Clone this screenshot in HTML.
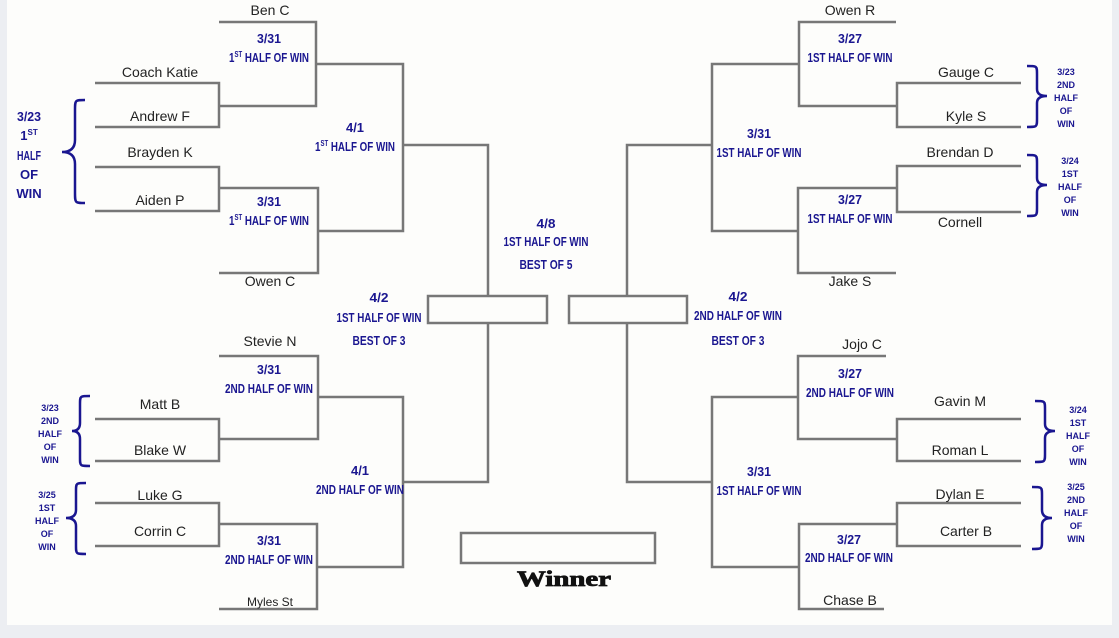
<!DOCTYPE html>
<html><head><meta charset="utf-8"><style>
html,body{margin:0;padding:0;background:#eceef2;width:1119px;height:638px;overflow:hidden}
svg{display:block}
.n{font-family:"Liberation Sans",sans-serif;font-size:14px;fill:#222;text-anchor:middle}
.b{font-family:"Liberation Sans Narrow","Liberation Sans",sans-serif;font-weight:bold;font-size:13px;fill:#1a1690;text-anchor:middle}
.s{font-family:"Liberation Sans Narrow","Liberation Sans",sans-serif;font-weight:bold;font-size:9px;fill:#1a1690;text-anchor:middle}
.l{stroke:#777;stroke-width:2.5;fill:none}
.br{stroke:#1a1690;stroke-width:2.5;fill:none}
</style></head><body>
<svg width="1119" height="638" viewBox="0 0 1119 638">
<rect x="7" y="0" width="1105" height="625" fill="#fdfdfb"/>
<g class="l">
<path d="M219 22H316V106H219"/>
<path d="M95 83H219V127H95"/>
<path d="M316 64H403V231H318"/>
<path d="M95 167H219V211H95"/>
<path d="M219 188H318V273H219"/>
<path d="M403 145H488V296"/>
<rect x="428" y="296" width="119" height="27"/>
<path d="M219 356H318V439H219"/>
<path d="M95 419H219V461H95"/>
<path d="M318 397H403V567H317"/>
<path d="M95 503H219V546H95"/>
<path d="M219 524H317V609H219"/>
<path d="M403 482H488V323"/>
<path d="M896 22H799V106H897"/>
<path d="M1021 83H897V127H1021"/>
<path d="M799 64H712V231H798"/>
<path d="M1021 166H897V212H1021"/>
<path d="M897 188H798V273H896"/>
<path d="M712 145H627V296"/>
<rect x="569" y="296" width="118" height="27"/>
<path d="M886 356H798V439H897"/>
<path d="M1021 419H897V461H1021"/>
<path d="M798 397H712V567H799"/>
<path d="M1021 503H897V546H1021"/>
<path d="M897 524H799V609H884"/>
<path d="M712 482H627V323"/>
<rect x="461" y="533" width="194" height="30"/>
</g>
<g class="br">
<path d="M85 100C75 100 75 100 75 110V140Q75 152 62 152Q75 152 75 164V193C75 203 75 203 85 203"/>
<path d="M90 396C80 396 80 396 80 404V423Q80 431 72 431Q80 431 80 439V458C80 466 80 466 90 466"/>
<path d="M86 483C76 483 76 483 76 491V510Q76 518 66 518Q76 518 76 526V546C76 554 76 554 86 554"/>
<path d="M1027 66C1037 66 1037 66 1037 74V89Q1037 96 1047 96Q1037 96 1037 103V119C1037 127 1037 127 1027 127"/>
<path d="M1027 155C1037 155 1037 155 1037 163V178Q1037 185 1047 185Q1037 185 1037 192V208C1037 216 1037 216 1027 216"/>
<path d="M1035 401C1045 401 1045 401 1045 409V424Q1045 431 1055 431Q1045 431 1045 438V454C1045 462 1045 462 1035 462"/>
<path d="M1032 487C1042 487 1042 487 1042 495V510Q1042 518 1052 518Q1042 518 1042 525V541C1042 549 1042 549 1032 549"/>
</g>
<g class="n">
<text x="270" y="15">Ben C</text>
<text x="160" y="77">Coach Katie</text>
<text x="160" y="121">Andrew F</text>
<text x="160" y="157">Brayden K</text>
<text x="160" y="205">Aiden P</text>
<text x="270" y="286">Owen C</text>
<text x="270" y="346">Stevie N</text>
<text x="160" y="409">Matt B</text>
<text x="160" y="455">Blake W</text>
<text x="160" y="500">Luke G</text>
<text x="160" y="536">Corrin C</text>
<text x="270" y="606" style="font-size:12px">Myles St</text>
<text x="850" y="15">Owen R</text>
<text x="966" y="77">Gauge C</text>
<text x="966" y="121">Kyle S</text>
<text x="960" y="157">Brendan D</text>
<text x="960" y="227">Cornell</text>
<text x="850" y="286">Jake S</text>
<text x="862" y="349">Jojo C</text>
<text x="960" y="406">Gavin M</text>
<text x="960" y="455">Roman L</text>
<text x="960" y="499">Dylan E</text>
<text x="966" y="536">Carter B</text>
<text x="850" y="605">Chase B</text>
</g>
<g class="b">
<text x="269" y="43" textLength="24" lengthAdjust="spacingAndGlyphs">3/31</text><text x="269" y="62" textLength="80" lengthAdjust="spacingAndGlyphs">1<tspan font-size="8" dy="-5">ST</tspan><tspan dy="5"> HALF OF WIN</tspan></text>
<text x="269" y="206" textLength="24" lengthAdjust="spacingAndGlyphs">3/31</text><text x="269" y="225" textLength="80" lengthAdjust="spacingAndGlyphs">1<tspan font-size="8" dy="-5">ST</tspan><tspan dy="5"> HALF OF WIN</tspan></text>
<text x="355" y="132" textLength="18" lengthAdjust="spacingAndGlyphs">4/1</text><text x="355" y="151" textLength="80" lengthAdjust="spacingAndGlyphs">1<tspan font-size="8" dy="-5">ST</tspan><tspan dy="5"> HALF OF WIN</tspan></text>
<text x="29" y="121" textLength="24" lengthAdjust="spacingAndGlyphs">3/23</text><text x="29" y="140">1<tspan font-size="8" dy="-5">ST</tspan></text><text x="29" y="160" textLength="24" lengthAdjust="spacingAndGlyphs">HALF</text><text x="29" y="179">OF</text><text x="29" y="198">WIN</text>
<text x="546" y="228" textLength="19" lengthAdjust="spacingAndGlyphs">4/8</text><text x="546" y="246" textLength="85" lengthAdjust="spacingAndGlyphs">1ST HALF OF WIN</text><text x="546" y="269" textLength="53" lengthAdjust="spacingAndGlyphs">BEST OF 5</text>
<text x="379" y="302" textLength="19" lengthAdjust="spacingAndGlyphs">4/2</text><text x="379" y="322" textLength="85" lengthAdjust="spacingAndGlyphs">1ST HALF OF WIN</text><text x="379" y="345" textLength="53" lengthAdjust="spacingAndGlyphs">BEST OF 3</text>
<text x="269" y="374" textLength="24" lengthAdjust="spacingAndGlyphs">3/31</text><text x="269" y="393" textLength="88" lengthAdjust="spacingAndGlyphs">2ND HALF OF WIN</text>
<text x="269" y="545" textLength="24" lengthAdjust="spacingAndGlyphs">3/31</text><text x="269" y="564" textLength="88" lengthAdjust="spacingAndGlyphs">2ND HALF OF WIN</text>
<text x="360" y="475" textLength="18" lengthAdjust="spacingAndGlyphs">4/1</text><text x="360" y="494" textLength="88" lengthAdjust="spacingAndGlyphs">2ND HALF OF WIN</text>
<text x="850" y="43" textLength="24" lengthAdjust="spacingAndGlyphs">3/27</text><text x="850" y="62" textLength="85" lengthAdjust="spacingAndGlyphs">1ST HALF OF WIN</text>
<text x="850" y="204" textLength="24" lengthAdjust="spacingAndGlyphs">3/27</text><text x="850" y="223" textLength="85" lengthAdjust="spacingAndGlyphs">1ST HALF OF WIN</text>
<text x="759" y="138" textLength="24" lengthAdjust="spacingAndGlyphs">3/31</text><text x="759" y="157" textLength="85" lengthAdjust="spacingAndGlyphs">1ST HALF OF WIN</text>
<text x="738" y="301" textLength="19" lengthAdjust="spacingAndGlyphs">4/2</text><text x="738" y="320" textLength="88" lengthAdjust="spacingAndGlyphs">2ND HALF OF WIN</text><text x="738" y="345" textLength="53" lengthAdjust="spacingAndGlyphs">BEST OF 3</text>
<text x="850" y="378" textLength="24" lengthAdjust="spacingAndGlyphs">3/27</text><text x="850" y="397" textLength="88" lengthAdjust="spacingAndGlyphs">2ND HALF OF WIN</text>
<text x="849" y="544" textLength="24" lengthAdjust="spacingAndGlyphs">3/27</text><text x="849" y="562" textLength="88" lengthAdjust="spacingAndGlyphs">2ND HALF OF WIN</text>
<text x="759" y="476" textLength="24" lengthAdjust="spacingAndGlyphs">3/31</text><text x="759" y="495" textLength="85" lengthAdjust="spacingAndGlyphs">1ST HALF OF WIN</text>
</g>
<g class="s">
<text x="1066" y="75">3/23</text><text x="1066" y="88">2ND</text><text x="1066" y="101">HALF</text><text x="1066" y="114">OF</text><text x="1066" y="127">WIN</text>
<text x="1070" y="164">3/24</text><text x="1070" y="177">1ST</text><text x="1070" y="190">HALF</text><text x="1070" y="203">OF</text><text x="1070" y="216">WIN</text>
<text x="50" y="411">3/23</text><text x="50" y="424">2ND</text><text x="50" y="437">HALF</text><text x="50" y="450">OF</text><text x="50" y="463">WIN</text>
<text x="47" y="498">3/25</text><text x="47" y="511">1ST</text><text x="47" y="524">HALF</text><text x="47" y="537">OF</text><text x="47" y="550">WIN</text>
<text x="1078" y="413">3/24</text><text x="1078" y="426">1ST</text><text x="1078" y="439">HALF</text><text x="1078" y="452">OF</text><text x="1078" y="465">WIN</text>
<text x="1076" y="490">3/25</text><text x="1076" y="503">2ND</text><text x="1076" y="516">HALF</text><text x="1076" y="529">OF</text><text x="1076" y="542">WIN</text>
</g>
<text x="564" y="586" textLength="94" lengthAdjust="spacingAndGlyphs" style="font-family:'Liberation Serif',serif;font-weight:bold;font-size:22px;fill:#111;stroke:#111;stroke-width:0.8;text-anchor:middle">Winner</text>
</svg>
</body></html>
